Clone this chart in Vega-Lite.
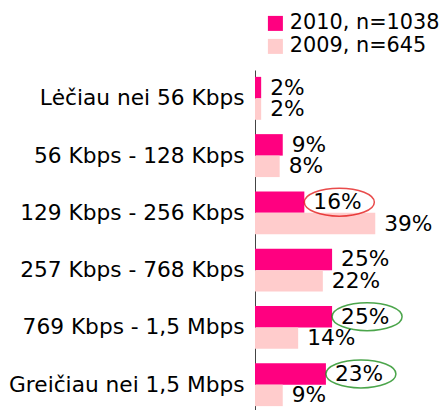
{
  "$schema": "https://vega.github.io/schema/vega-lite/v6.json",
  "autosize": "none",
  "width": 185,
  "height": 343,
  "padding": {"left": 255, "top": 70, "right": 6, "bottom": 0},
  "config": {"view": {"stroke": null}, "font": "DejaVu Sans"},
  "data": {"values": [
    {"cat": "Lėčiau nei 56 Kbps", "year": "2010, n=1038", "value": 0.02, "ring": null},
    {"cat": "Lėčiau nei 56 Kbps", "year": "2009, n=645", "value": 0.02, "ring": null},
    {"cat": "56 Kbps - 128 Kbps", "year": "2010, n=1038", "value": 0.09, "ring": null},
    {"cat": "56 Kbps - 128 Kbps", "year": "2009, n=645", "value": 0.08, "ring": null},
    {"cat": "129 Kbps - 256 Kbps", "year": "2010, n=1038", "value": 0.16, "ring": "down"},
    {"cat": "129 Kbps - 256 Kbps", "year": "2009, n=645", "value": 0.39, "ring": null},
    {"cat": "257 Kbps - 768 Kbps", "year": "2010, n=1038", "value": 0.25, "ring": null},
    {"cat": "257 Kbps - 768 Kbps", "year": "2009, n=645", "value": 0.22, "ring": null},
    {"cat": "769 Kbps - 1,5 Mbps", "year": "2010, n=1038", "value": 0.25, "ring": "up"},
    {"cat": "769 Kbps - 1,5 Mbps", "year": "2009, n=645", "value": 0.14, "ring": null},
    {"cat": "Greičiau nei 1,5 Mbps", "year": "2010, n=1038", "value": 0.23, "ring": "up"},
    {"cat": "Greičiau nei 1,5 Mbps", "year": "2009, n=645", "value": 0.09, "ring": null}
  ]},
  "encoding": {
    "y": {
      "field": "cat", "type": "nominal", "sort": null,
      "scale": {"paddingInner": 0.25, "paddingOuter": 0.12},
      "axis": {"title": null, "ticks": false, "labelFontSize": 21.7, "labelColor": "#000", "labelPadding": 11, "domainColor": "#444", "labelFont": "DejaVu Sans", "labelLimit": 300}
    },
    "yOffset": {"field": "year", "type": "nominal", "sort": ["2010, n=1038", "2009, n=645"]},
    "x": {"field": "value", "type": "quantitative", "scale": {"domain": [0, 0.6]}, "axis": null}
  },
  "layer": [
    {
      "mark": {"type": "bar"},
      "encoding": {
        "color": {
          "field": "year", "type": "nominal", "sort": ["2010, n=1038", "2009, n=645"],
          "scale": {"range": ["#ff0080", "#ffcccc"]},
          "legend": {"title": null, "orient": "none", "legendX": 10, "legendY": -57, "symbolType": "square", "symbolSize": 225, "symbolStrokeWidth": 0, "labelFontSize": 20.8, "labelFont": "DejaVu Sans", "labelColor": "#000", "labelOffset": 4, "rowPadding": 1, "padding": 0, "labelLimit": 300}
        }
      }
    },
    {
      "mark": {"type": "text", "align": "left", "baseline": "middle", "dx": 9, "fontSize": 21.7, "color": "#000"},
      "encoding": {"text": {"field": "value", "type": "quantitative", "format": ".0%"}}
    },
    {
      "transform": [{"filter": "datum.ring != null"}],
      "mark": {"type": "point", "filled": false, "strokeWidth": 1.5, "size": 4900, "shape": "M0,0A1,0.4,0,1,1,2,0A1,0.4,0,1,1,0,0Z"},
      "encoding": {
        "stroke": {"field": "ring", "type": "nominal", "scale": {"domain": ["down", "up"], "range": ["#e00000", "#008000"]}, "legend": null}
      }
    }
  ]
}
